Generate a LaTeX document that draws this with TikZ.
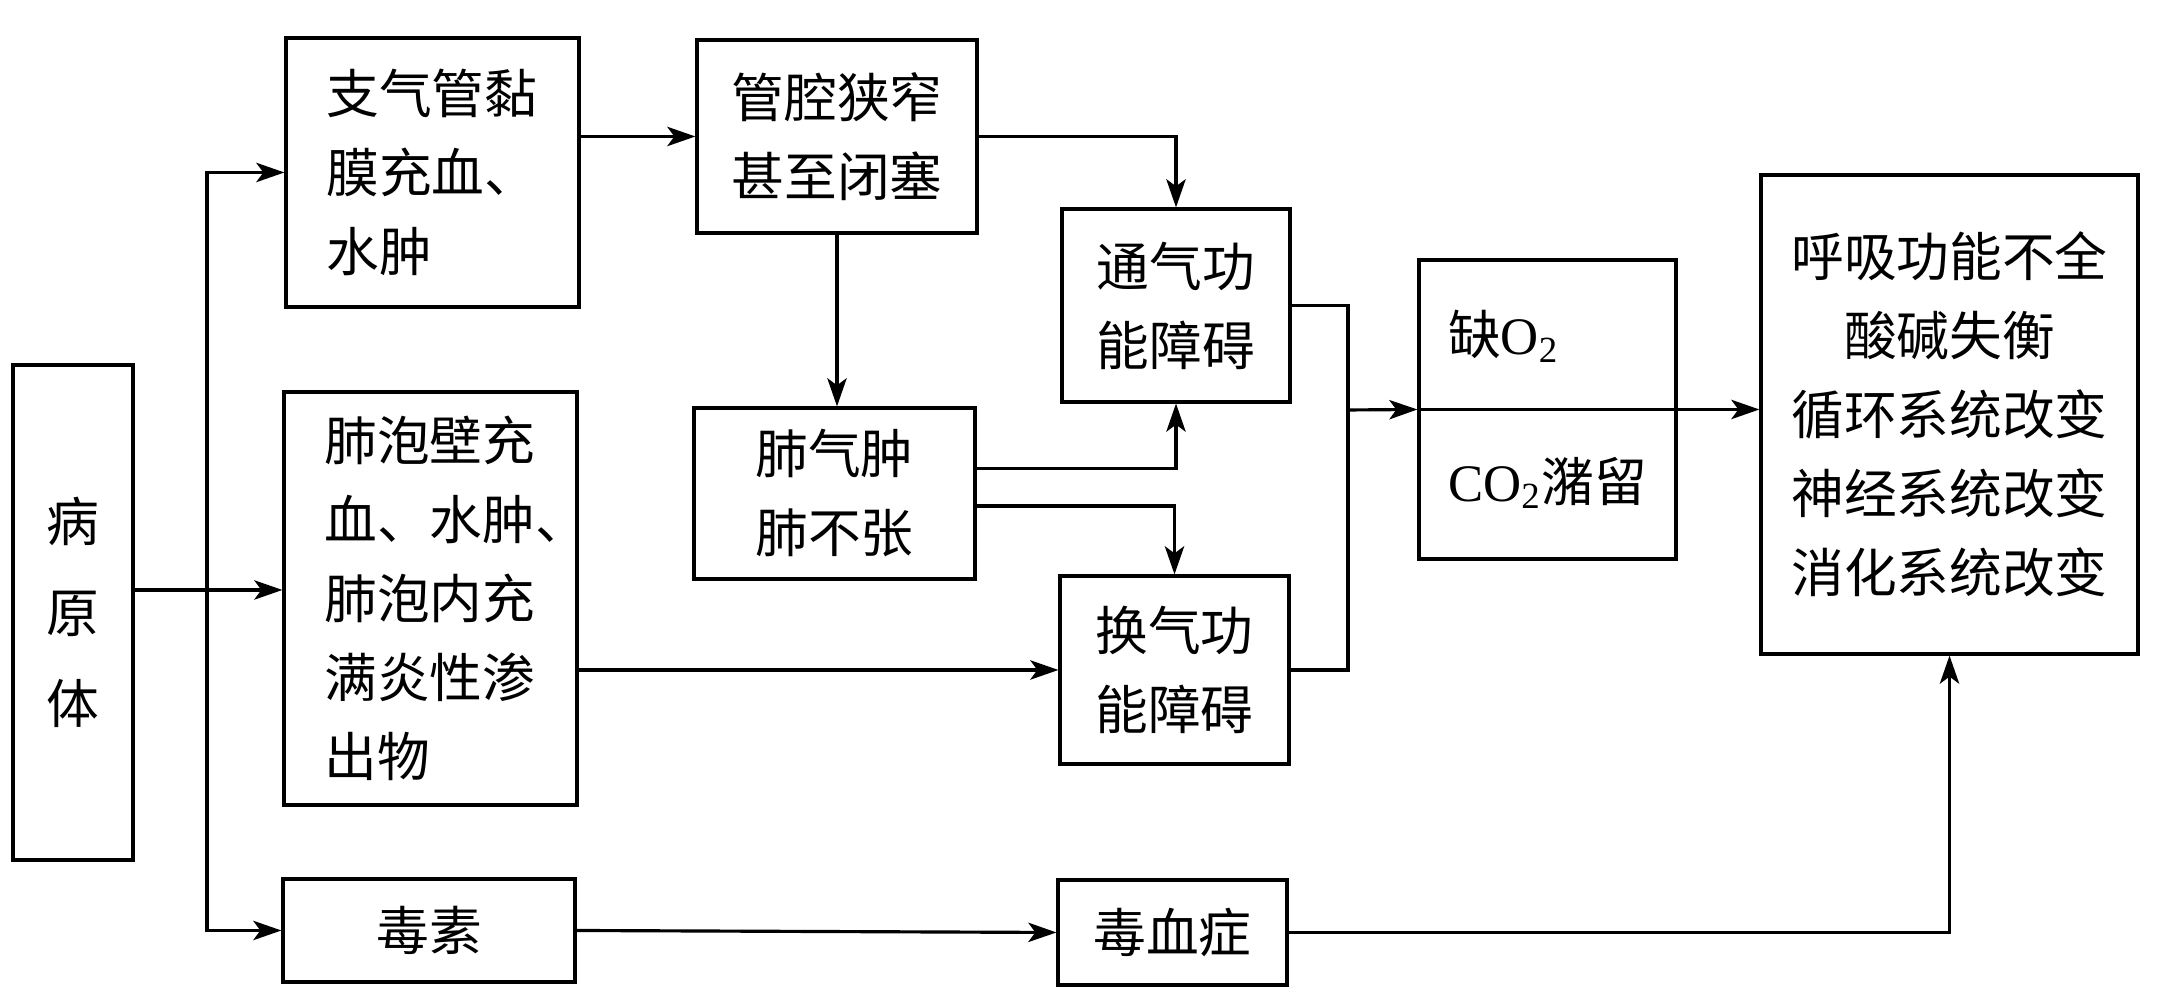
\documentclass[tikz,border=0pt]{standalone}
\usepackage{fontspec}
\setmainfont{Liberation Serif}
\newfontfamily\cjk{Noto Sans CJK SC}
\usetikzlibrary{arrows.meta}
\begin{document}
\begin{tikzpicture}[
    box/.style={draw, line width=0.9pt, inner sep=0pt, align=center,
      font=\cjk\fontsize{15}{22.5}\selectfont},
    arr/.style={-{Stealth[length=8pt,width=5.5pt,inset=2pt]}}]
  \useasboundingbox (0,0) rectangle (21.68,10);
  \node[box, minimum width=1.2cm, minimum height=4.95cm,
    font=\cjk\fontsize{15}{25.8}\selectfont] (src) at (0.73,3.875) {病\\原\\体};
  \node[box, minimum width=2.93cm, minimum height=2.69cm, align=left,
    text width=2.12cm] (bron) at (4.325,8.275) {支气管黏\\膜充血、\\水肿};
  \node[box, minimum width=2.93cm, minimum height=4.13cm, align=left,
    text width=2.12cm] (alv) at (4.305,4.015)
    {肺泡壁充\\血、水肿、\\肺泡内充\\满炎性渗\\出物};
  \node[box, minimum width=2.92cm, minimum height=1.03cm] (tox) at (4.29,0.695) {毒素};
  \node[box, minimum width=2.80cm, minimum height=1.93cm] (lumen) at (8.37,8.635) {管腔狭窄\\甚至闭塞};
  \node[box, minimum width=2.81cm, minimum height=1.71cm] (emph) at (8.345,5.065) {肺气肿\\肺不张};
  \node[box, minimum width=2.28cm, minimum height=1.93cm] (vent) at (11.76,6.945) {通气功\\能障碍};
  \node[box, minimum width=2.29cm, minimum height=1.88cm] (exch) at (11.745,3.30) {换气功\\能障碍};
  \node[box, minimum width=2.29cm, minimum height=1.05cm] (sepsis) at (11.725,0.675) {毒血症};
  \node[box, minimum width=2.57cm, minimum height=2.99cm, align=left] (gas) at (15.475,5.905)
    {缺{\rmfamily O\textsubscript{2}}\\[19.2pt]{\rmfamily CO\textsubscript{2}}潴留};
  \node[box, minimum width=3.77cm, minimum height=4.79cm] (resp) at (19.495,5.855)
    {呼吸功能不全\\酸碱失衡\\循环系统改变\\神经系统改变\\消化系统改变};
  \coordinate (split) at (2.07,4.10);
  \coordinate (join) at (13.48,5.90);
  \begin{scope}[line width=0.9pt]
    \draw (src.east |- split) -- (split);
    \draw[arr] (split) -- (split -| alv.west);
    \draw[arr] (split) |- (bron.west);
    \draw[arr] (split) |- (tox.west);
    \draw[arr] (bron.east |- lumen.west) -- (lumen.west);
    \draw[arr] (lumen.east) -| (vent.north);
    \draw[arr] (lumen.south) -- (emph.north -| lumen.south);
    \draw[arr] ([yshift=2.5mm]emph.east) -| (vent.south);
    \draw[arr] ([yshift=-1.25mm]emph.east) -| (exch.north);
    \draw[arr] (alv.east |- exch.west) -- (exch.west);
    \draw[arr] (tox.east) -- (sepsis.west);
    \draw (vent.east) -| (join) |- (exch.east);
    \draw[arr] (join) -- (gas.west);
    \draw[arr] (gas.west) -- (gas.west -| resp.west);
    \draw[arr] (sepsis.east) -| (resp.south);
  \end{scope}
\end{tikzpicture}
\end{document}
